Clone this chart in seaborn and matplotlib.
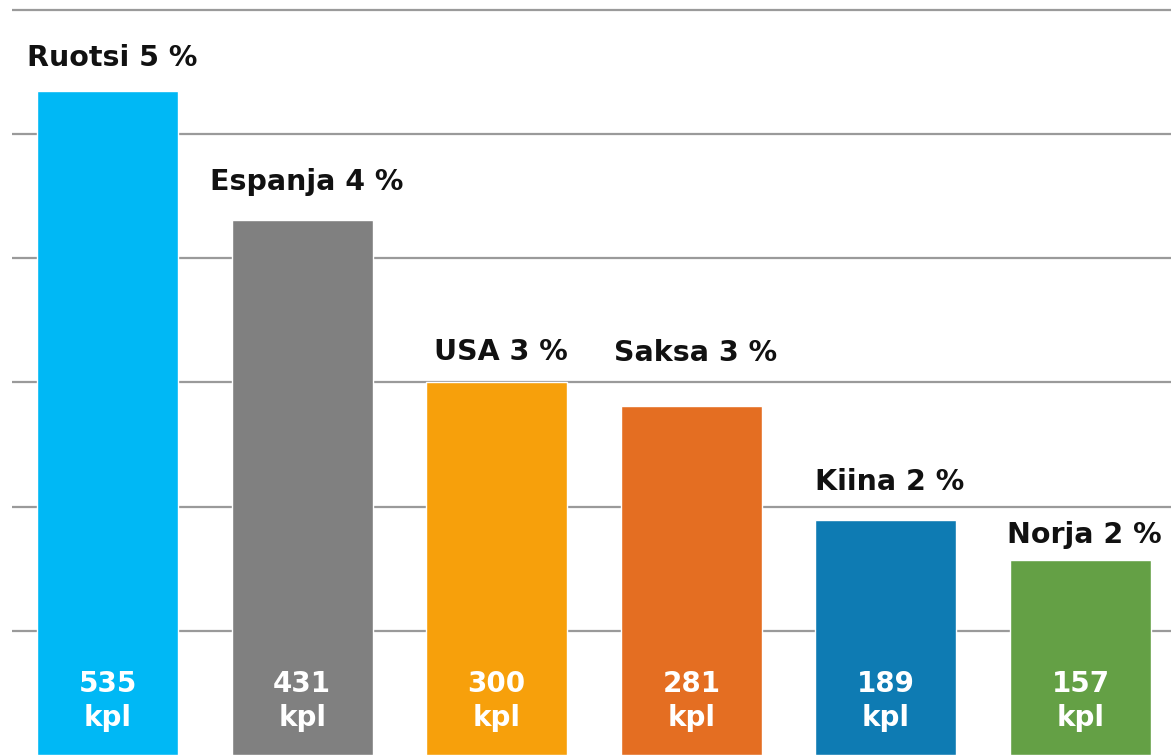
import pandas as pd
import numpy as np
import matplotlib
matplotlib.use("Agg")
import matplotlib.pyplot as plt
import seaborn as sns

countries = ["Ruotsi", "Espanja", "USA", "Saksa", "Kiina", "Norja"]
shares = [5, 4, 3, 3, 2, 2]
units = [535, 431, 300, 281, 189, 157]
colors = ["#00B8F5", "#808080", "#F7A00B", "#E46E22", "#0E7BB3", "#64A045"]

data = pd.DataFrame({"maa": countries, "kpl": units})

sns.set_style("white")
plt.rcParams['font.family'] = ['DejaVu Sans']

fig = plt.figure(figsize=(11.71, 7.55), dpi=100)
ax = fig.add_axes([12 / 1171, 0, 1 - 12 / 1171, 1])

sns.barplot(data=data, x="maa", y="kpl", hue="maa", palette=colors,
            saturation=1, width=0.725, legend=False, ax=ax, zorder=3)

ax.set_ylim(0, 608)
ax.set_xlim(-0.491, 5.465)
ax.set_yticks([100, 200, 300, 400, 500, 600])
ax.yaxis.grid(True, color="#9a9a9a", linewidth=1.6, zorder=0)
ax.set_axisbelow(True)
ax.tick_params(left=False, bottom=False, labelleft=False, labelbottom=False)
ax.set_xlabel("")
ax.set_ylabel("")
for s in ax.spines.values():
    s.set_visible(False)

# baseline gap above bar in pixels (labels were placed by hand in the original)
gaps = [25, 30, 22, 45, 30, 17]
for i, (c, p, v) in enumerate(zip(countries, shares, units)):
    ax.annotate(f"{c} {p} %", xy=(i, v), xytext=(3, gaps[i] * 0.72),
                textcoords="offset points", ha="center", va="baseline",
                fontsize=20.5, fontweight="bold", color="#111111")
    ax.text(i, 50.7, f"{v}", ha="center", va="baseline", fontsize=20,
            fontweight="bold", color="white", zorder=4)
    ax.text(i, 23.4, "kpl", ha="center", va="baseline", fontsize=20,
            fontweight="bold", color="white", zorder=4)

fig.savefig("out.png", dpi=100)
